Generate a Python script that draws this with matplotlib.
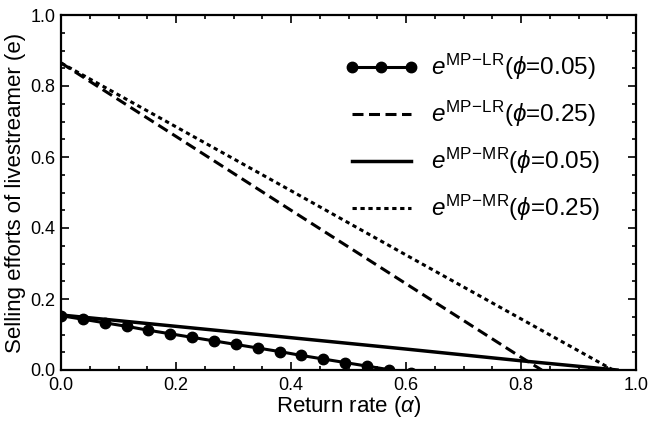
import matplotlib
matplotlib.use("Agg")
import matplotlib.pyplot as plt
from matplotlib.ticker import MultipleLocator

plt.rcParams['font.family'] = ['Liberation Sans', 'DejaVu Sans']
plt.rcParams['mathtext.fontset'] = 'custom'
plt.rcParams['mathtext.rm'] = 'Liberation Sans'
plt.rcParams['mathtext.it'] = 'Liberation Sans:italic'
plt.rcParams['mathtext.bf'] = 'Liberation Sans:bold'
plt.rcParams['mathtext.fallback'] = 'stixsans'

# Data
alpha_lr_005 = [0.0, 0.038, 0.076, 0.114, 0.152, 0.190, 0.228, 0.266, 0.304,
                0.342, 0.380, 0.418, 0.456, 0.494, 0.532, 0.570, 0.608]
e_lr_005 = [0.153, 0.143, 0.133, 0.123, 0.112, 0.102, 0.092, 0.082, 0.072,
            0.062, 0.052, 0.041, 0.031, 0.021, 0.011, 0.001, -0.009]

alpha_lr_025 = [0.0, 0.2, 0.4, 0.6, 0.8, 0.836]
e_lr_025 = [0.865, 0.658, 0.450, 0.243, 0.036, 0.0]

alpha_mr_005 = [0.0, 0.2, 0.4, 0.6, 0.8, 0.967]
e_mr_005 = [0.155, 0.123, 0.091, 0.059, 0.026, 0.0]

alpha_mr_025 = [0.0, 0.2, 0.4, 0.6, 0.8, 0.960]
e_mr_025 = [0.865, 0.685, 0.505, 0.324, 0.144, 0.0]

labels = [r'$e^{\mathrm{MP\!-\!LR}}$($\phi$=0.05)',
          r'$e^{\mathrm{MP\!-\!LR}}$($\phi$=0.25)',
          r'$e^{\mathrm{MP\!-\!MR}}$($\phi$=0.05)',
          r'$e^{\mathrm{MP\!-\!MR}}$($\phi$=0.25)']
xticks = [0.0, 0.2, 0.4, 0.6, 0.8, 1.0]
yticks = [0.0, 0.2, 0.4, 0.6, 0.8, 1.0]

fig = plt.figure(figsize=(6.5, 4.21), dpi=100)
ax = fig.add_axes([61/650, 1-370/421, 575/650, 355/421])

ax.plot(alpha_lr_005, e_lr_005, color='black', lw=2.2, marker='o', ms=7.5,
        label=labels[0])
ax.plot(alpha_lr_025, e_lr_025, color='black', lw=2.2, ls=(0, (3.6, 1.8)),
        label=labels[1])
ax.plot(alpha_mr_005, e_mr_005, color='black', lw=2.5, label=labels[2])
ax.plot(alpha_mr_025, e_mr_025, color='black', lw=2.2, ls=(0, (1.4, 1.2)),
        label=labels[3])

ax.set_xlim(0, 1)
ax.set_ylim(0, 1)
ax.set_xticks(xticks)
ax.set_yticks(yticks)
ax.set_xticklabels([f'{v:.1f}' for v in xticks])
ax.set_yticklabels([f'{v:.1f}' for v in yticks])
ax.xaxis.set_minor_locator(MultipleLocator(0.05))
ax.yaxis.set_minor_locator(MultipleLocator(0.05))
ax.tick_params(which='both', direction='in', top=True, right=True,
               labelsize=13, width=1.2)
ax.tick_params(axis='x', which='major', pad=5)
ax.tick_params(axis='y', which='major', pad=4)
ax.tick_params(which='major', length=6)
ax.tick_params(which='minor', length=3)
for s in ax.spines.values():
    s.set_linewidth(1.6)

ax.set_xlabel(r'Return rate ($\alpha$)', fontsize=16, labelpad=0)
ax.set_ylabel('Selling efforts of livestreamer (e)', fontsize=16, labelpad=3)

leg = ax.legend(loc='upper left', bbox_to_anchor=(345/650, 1-52/421),
                bbox_transform=fig.transFigure, frameon=False, fontsize=17.5,
                handlelength=3.0, handletextpad=0.55, labelspacing=0.69,
                numpoints=3, borderpad=0, borderaxespad=0)

fig.savefig('out.png', dpi=100)
